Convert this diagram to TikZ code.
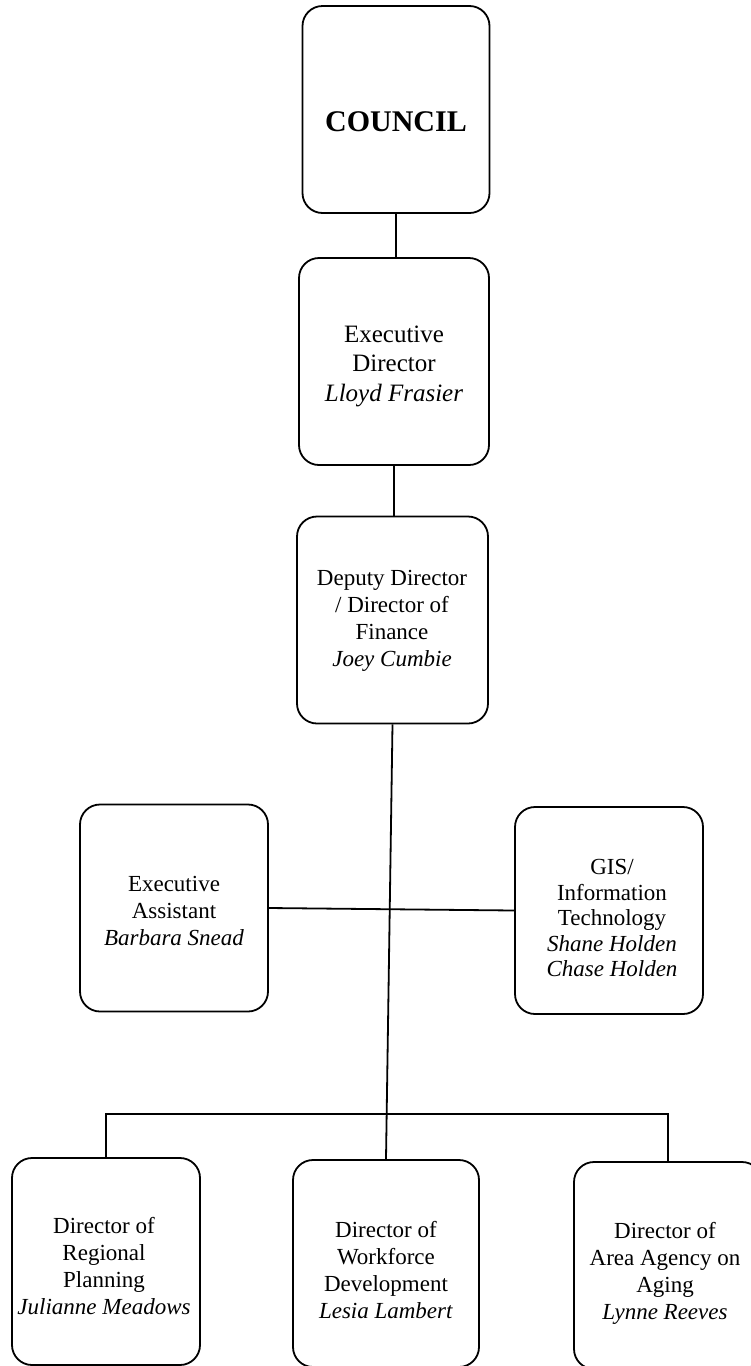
\documentclass[tikz,border=0pt]{standalone}
\usepackage{fontspec}
\setmainfont{Liberation Serif}
\begin{document}
\begin{tikzpicture}[x=1pt,y=-1pt,
  orgbox/.style={draw, line width=1.8pt, rounded corners=20pt, minimum width=189pt, minimum height=207pt, inner sep=0pt},
  lbl/.style={align=center, font=\fontsize{23}{27}\selectfont, inner sep=0pt},
  biglbl/.style={align=center, font=\fontsize{25}{29.5}\selectfont, inner sep=0pt},
  conn/.style={line width=1.8pt}]
\useasboundingbox (0,0) rectangle (751,1366);
% boxes
\node[orgbox, minimum width=187pt] (council) at (396,109.5) {};
\node[orgbox, minimum width=190pt] (exec) at (394,361.5) {};
\node[orgbox, minimum width=191pt] (deputy) at (392.5,620) {};
\node[orgbox, minimum width=188pt] (assist) at (174,908) {};
\node[orgbox, minimum width=188pt] (gis) at (609,910.5) {};
\node[orgbox, minimum width=188pt] (dir1) at (106,1261.5) {};
\node[orgbox, minimum width=186pt] (dir2) at (386,1263.5) {};
\node[orgbox, minimum width=188pt] (dir3) at (668,1265.5) {};
% texts
\node[inner sep=0pt, font=\fontsize{30}{34}\selectfont\bfseries] (council-t) at (396,122) {COUNCIL};
\node[biglbl] (exec-t) at (394,366) {Executive\\Director\\\textit{Lloyd Frasier}};
\node[lbl] (deputy-t) at (392,621) {Deputy Director\\/ Director of\\Finance\\\textit{Joey Cumbie}};
\node[lbl] (assist-t) at (174,911) {Executive\\Assistant\\\textit{Barbara Snead}};
\node[lbl, font=\fontsize{23}{25.5}\selectfont] (gis-t) at (612,918) {GIS/\\Information\\Technology\\\textit{Shane Holden}\\\textit{Chase Holden}};
\node[lbl] (dir1-t) at (104,1266) {Director of\\Regional\\Planning\\\textit{Julianne Meadows}};
\node[lbl] (dir2-t) at (386,1270) {Director of\\Workforce\\Development\\\textit{Lesia Lambert}};
\node[lbl] (dir3-t) at (665,1273) {Director of\\Area Agency on\\Aging\\\textit{Lynne Reeves}};
% connectors
\coordinate (bus) at (390,1114);
\draw[conn] (council.south) -- (council.south |- exec.north);
\draw[conn] (exec.south) -- (exec.south |- deputy.north);
\draw[conn] (deputy.south) -- (dir2.north);
\draw[conn] (assist.east) -- (gis.west);
\draw[conn] (dir1.north) |- (bus) -| (dir3.north);
\end{tikzpicture}
\end{document}
